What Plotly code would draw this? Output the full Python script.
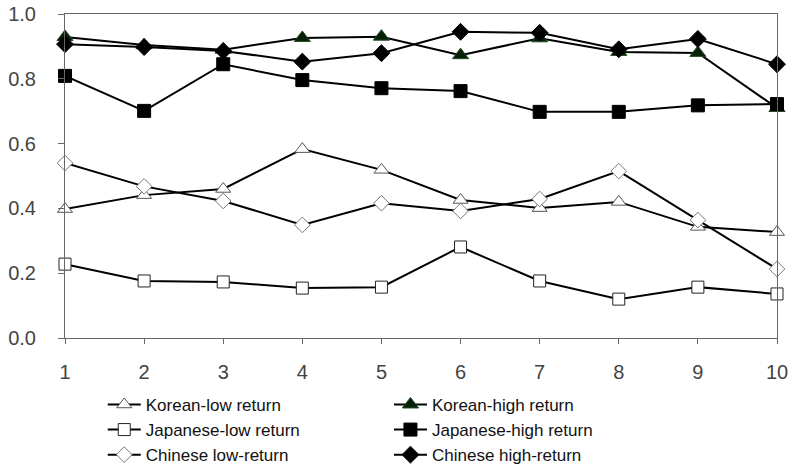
import plotly.graph_objects as go

x = [1, 2, 3, 4, 5, 6, 7, 8, 9, 10]
korean_low = [0.398, 0.441, 0.460, 0.583, 0.519, 0.426, 0.401, 0.420, 0.343, 0.327]
korean_high = [0.929, 0.904, 0.890, 0.926, 0.930, 0.873, 0.925, 0.883, 0.880, 0.710]
japanese_low = [0.228, 0.176, 0.173, 0.154, 0.157, 0.281, 0.176, 0.120, 0.157, 0.136]
japanese_high = [0.809, 0.701, 0.845, 0.796, 0.771, 0.762, 0.698, 0.698, 0.718, 0.722]
chinese_low = [0.540, 0.468, 0.423, 0.349, 0.416, 0.392, 0.429, 0.515, 0.364, 0.213]
chinese_high = [0.907, 0.898, 0.886, 0.853, 0.879, 0.945, 0.942, 0.891, 0.923, 0.845]
y_ticks = [0.0, 0.2, 0.4, 0.6, 0.8, 1.0]
y_tick_labels = ["0.0", "0.2", "0.4", "0.6", "0.8", "1.0"]

fig = go.Figure()

def add(name, ys, symbol, fill, edge, size, legend):
    fig.add_trace(go.Scatter(
        x=x, y=ys, name=name, mode="lines+markers",
        line=dict(color="black", width=2),
        marker=dict(symbol=symbol, size=size, color=fill,
                    line=dict(color=edge, width=1)),
        legend=legend, cliponaxis=False,
    ))

add("Korean-low return", korean_low, "triangle-up", "white", "#555555", 13, "legend")
add("Japanese-low return", japanese_low, "square", "white", "#222222", 12, "legend")
add("Chinese low-return", chinese_low, "diamond", "white", "#777777", 12, "legend")
add("Korean-high return", korean_high, "triangle-up", "#0a1f0a", "#1d4d1d", 14, "legend2")
add("Japanese-high return", japanese_high, "square", "black", "black", 13, "legend2")
add("Chinese high-return", chinese_high, "diamond", "black", "black", 13, "legend2")

font = dict(family="Liberation Sans, Arial, sans-serif", size=17, color="#111111")
tfont = dict(family="Liberation Sans, Arial, sans-serif", size=20, color="#444444")

fig.update_layout(
    width=793, height=470,
    margin=dict(l=65, r=16, t=14, b=132, autoexpand=False),
    paper_bgcolor="white", plot_bgcolor="white",
    font=font,
    legend=dict(x=0.053, y=-0.151, xanchor="left", yanchor="top",
                orientation="v", font=font, tracegroupgap=0, itemwidth=33,
                bgcolor="rgba(0,0,0,0)"),
    legend2=dict(x=0.455, y=-0.151, xanchor="left", yanchor="top",
                 orientation="v", font=font, tracegroupgap=0, itemwidth=33,
                 bgcolor="rgba(0,0,0,0)"),
    xaxis=dict(range=[1, 10], tickvals=x, ticks="outside", ticklen=5,
               tickcolor="#666666", showline=True, linecolor="#666666",
               mirror=True, showgrid=False, zeroline=False,
               tickfont=tfont, ticklabelstandoff=11,
               ticklabeloverflow="allow"),
    yaxis=dict(range=[0, 1.0], tickvals=y_ticks, ticktext=y_tick_labels,
               ticks="outside", ticklen=6, tickcolor="#666666",
               showline=True, linecolor="#666666", mirror=True,
               showgrid=False, zeroline=False, tickfont=tfont,
               ticklabelstandoff=18, ticklabeloverflow="allow"),
)

fig.write_html("out.html",
               config={"displayModeBar": False},
               post_script="document.body.style.margin='0';")
